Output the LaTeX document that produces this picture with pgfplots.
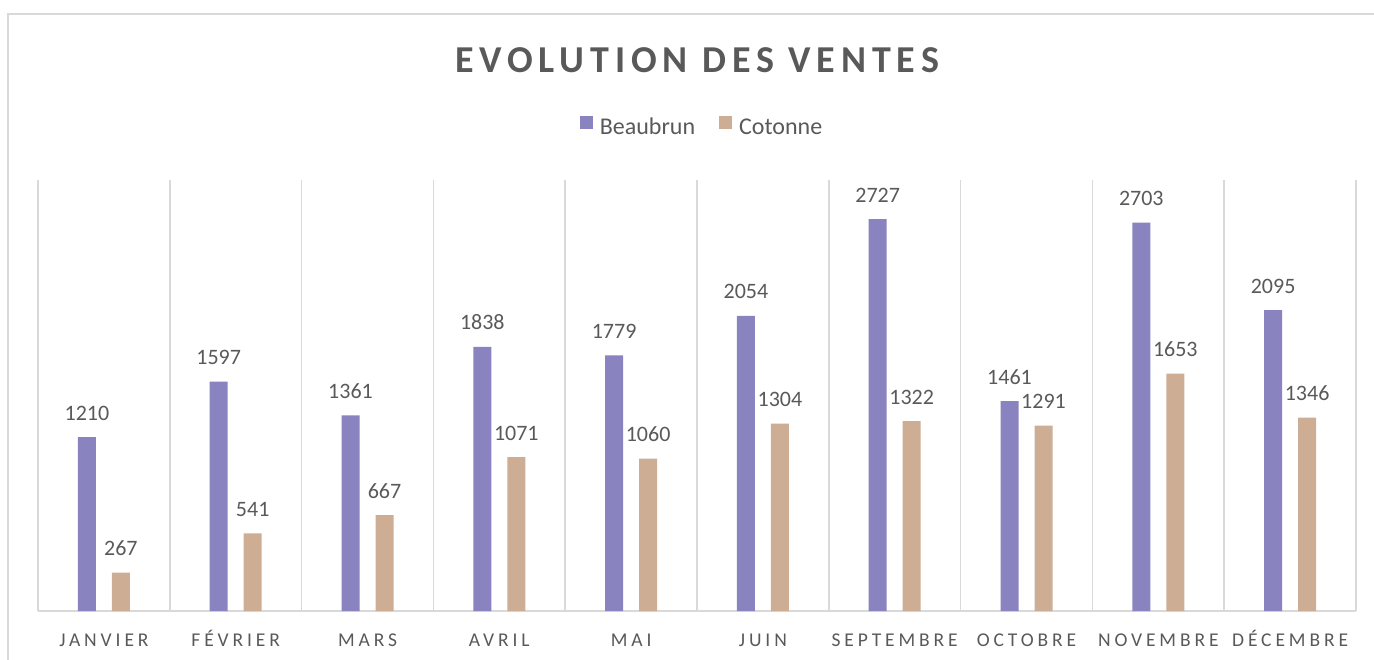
\documentclass[border=0pt]{standalone}
\usepackage{fontspec}
\setmainfont{Carlito}
\newfontfamily\tickfont[LetterSpace=20]{Carlito}
\newfontfamily\titlefont[LetterSpace=15.5]{Carlito}
\usepackage{pgfplots}
\pgfplotsset{compat=1.18}
\definecolor{purp}{HTML}{8983BF}
\definecolor{tanc}{HTML}{CDAE95}
\definecolor{txt}{HTML}{595959}
\definecolor{grd}{HTML}{D9D9D9}
\begin{document}
\begin{tikzpicture}
\useasboundingbox (0,0) rectangle (687bp,330bp);
\draw[grd, line width=0.75bp] (4bp,0) -- (4bp,323bp) -- (687bp,323bp);
\node[anchor=base, text=txt, inner sep=0pt, font=\titlefont\fontsize{19bp}{22bp}\selectfont\bfseries] at (348.5bp,293.5bp) {EVOLUTION DES VENTES};
\begin{axis}[
  at={(19bp,24.5bp)}, anchor=south west, scale only axis,
  width=659bp, height=215.5bp,
  xmin=-0.5, xmax=9.5, ymin=0, ymax=3000,
  axis x line*=bottom, axis y line=none,
  x axis line style={grd, line width=1bp},
  ytick=\empty,
  xtick={0,...,9},
  xticklabels={JANVIER,FÉVRIER,MARS,AVRIL,MAI,JUIN,SEPTEMBRE,OCTOBRE,NOVEMBRE,DÉCEMBRE},
  xticklabel style={font=\tickfont\fontsize{9.75bp}{12bp}\selectfont, text=txt, anchor=base, yshift=-17.5bp},
  major tick length=0pt, minor tick length=0pt,
  minor xtick={-0.5,0.5,...,9.5},
  xminorgrids, minor grid style={grd, line width=0.75bp},
  clip=false,
  ybar=8bp, bar width=9bp,
  /pgf/number format/assume math mode=true,
  /pgf/number format/1000 sep={},
  nodes near coords,
  every node near coord/.append style={font=\fontsize{11bp}{13bp}\selectfont, text=txt, anchor=base, inner sep=0pt, yshift=8.5bp},
  legend columns=2,
  legend style={at={(0.5046,1.1206)}, anchor=center, draw=none, fill=none,
    font=\fontsize{12bp}{14bp}\selectfont, text=txt,
    /tikz/every odd column/.append style={column sep=1.5bp},
    /tikz/every even column/.append style={column sep=10bp}},
  legend image code/.code={\fill[#1] (0bp,-0.5bp) rectangle (6.5bp,6bp);},
]
\addplot[fill=purp, draw=none] coordinates {(0,1210) (1,1597) (2,1361) (3,1838) (4,1779) (5,2054) (6,2727) (7,1461) (8,2703) (9,2095)};
\addplot[fill=tanc, draw=none] coordinates {(0,267) (1,541) (2,667) (3,1071) (4,1060) (5,1304) (6,1322) (7,1291) (8,1653) (9,1346)};
\legend{Beaubrun, Cotonne}
\end{axis}
\end{tikzpicture}
\end{document}
